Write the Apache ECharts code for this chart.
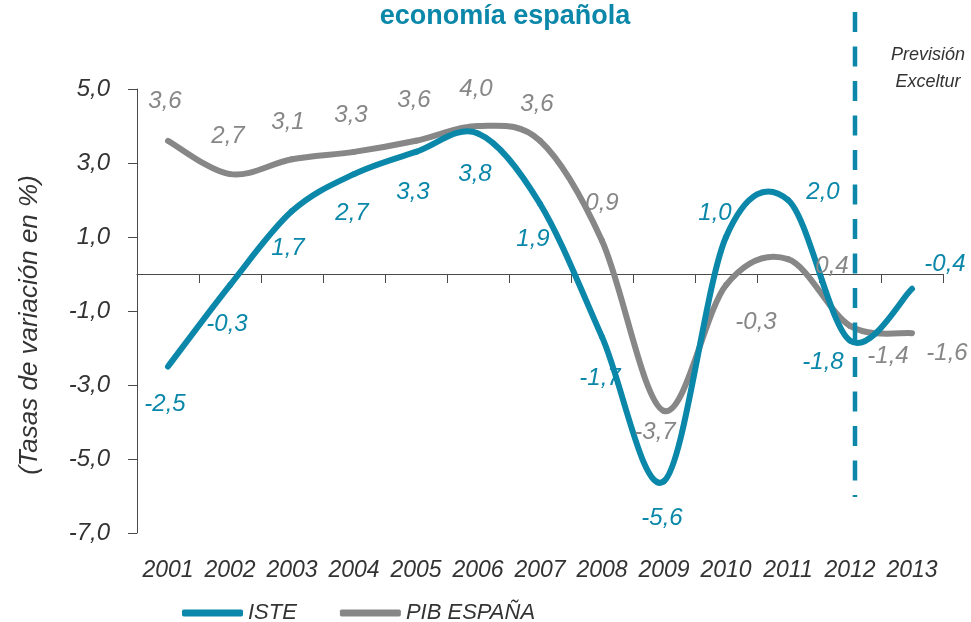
<!DOCTYPE html>
<html>
<head>
<meta charset="utf-8">
<script src="https://cdn.jsdelivr.net/npm/echarts@6/dist/echarts.min.js"></script>
<style>
html,body{margin:0;padding:0;background:#fff;}
#c{width:971px;height:622px;}
</style>
</head>
<body>
<div id="c"></div>
<script>
var categories = ['2001','2002','2003','2004','2005','2006','2007','2008','2009','2010','2011','2012','2013'];
var isteValues = [-2.5, -0.3, 1.7, 2.7, 3.3, 3.8, 1.9, -1.7, -5.6, 1.0, 2.0, -1.8, -0.4];
var pibValues  = [3.6, 2.7, 3.1, 3.3, 3.6, 4.0, 3.6, 0.9, -3.7, -0.3, 0.4, -1.4, -1.6];
var yTicks = [-7, -5, -3, -1, 1, 3, 5];
var forecastYear = '2012';
var forecastSpan = [7.08, -6.03];

// label placement (pixel offsets from each point)
var isteLabelOffset = [[-3,38],[-3,39],[-4,37],[-2,39],[-3,40],[-3,41],[-7,36],[-2,41],[-2,37],[-11,-24],[35,-8],[-27,22],[33,-24]];
var pibLabelOffset  = [[-3,-39],[-2,-38],[-4,-37],[-3,-37],[-2,-40],[-2,-37],[-3,-36],[0,-37],[-9,21],[30,37],[44,7],[38,31],[35,20]];

var TEAL = '#0a87a9';
var GREY = '#878787';
var FONT = '"Liberation Sans", Arial, sans-serif';

function fmt(v){ return v.toFixed(1).replace('.', ','); }

function buildLabelData(vals, offs, color){
  return vals.map(function(v, i){
    return {
      value: v,
      label: {
        show: true,
        position: 'inside',
        offset: offs[i],
        formatter: fmt(v),
        color: color,
        fontSize: 24,
        fontStyle: 'italic',
        fontFamily: FONT,
        align: 'center',
        verticalAlign: 'middle'
      }
    };
  });
}

// Smoothed (Catmull-Rom style) curve segments drawn through the axis scales
function curveRenderer(vals, color){
  return function(params, api){
    var i = params.dataIndex;
    var n = vals.length;
    if (i >= n - 1) return null;
    function P(j){
      j = Math.max(0, Math.min(n - 1, j));
      return api.coord([j, vals[j]]);
    }
    var p0 = P(i - 1), p1 = P(i), p2 = P(i + 1), p3 = P(i + 2);
    return {
      type: 'bezierCurve',
      shape: {
        x1: p1[0], y1: p1[1], x2: p2[0], y2: p2[1],
        cpx1: p1[0] + (p2[0] - p0[0]) / 6, cpy1: p1[1] + (p2[1] - p0[1]) / 6,
        cpx2: p2[0] - (p3[0] - p1[0]) / 6, cpy2: p2[1] - (p3[1] - p1[1]) / 6
      },
      style: {stroke: color, lineWidth: 6, fill: null, lineCap: 'round', lineJoin: 'round'}
    };
  };
}

function pairs(vals){ return vals.map(function(v, i){ return [i, v]; }); }

var chart = echarts.init(document.getElementById('c'), null, {renderer: 'canvas'});
chart.setOption({
  animation: false,
  backgroundColor: '#ffffff',
  title: [
    {
      text: 'economía española',
      left: 505, top: 3, textAlign: 'center', padding: 0,
      textStyle: {color: TEAL, fontSize: 27, fontWeight: 'bold', fontFamily: FONT}
    },
    {
      text: 'Previsión\nExceltur',
      left: 928, top: 41, textAlign: 'center', padding: 0,
      textStyle: {color: '#333', fontSize: 18, fontStyle: 'italic', fontWeight: 'normal', fontFamily: FONT, lineHeight: 27}
    }
  ],
  grid: {left: 137, right: 28, top: 89, bottom: 89, containLabel: false},
  legend: {
    left: 177, top: 597,
    itemWidth: 61, itemHeight: 7, itemGap: 43, itemTextGap: 2,
    icon: 'roundRect',
    textStyle: {fontSize: 22, fontStyle: 'italic', color: '#333', fontFamily: FONT},
    data: ['ISTE', 'PIB ESPAÑA']
  },
  xAxis: [
    {
      type: 'category', data: categories, boundaryGap: true,
      axisLine: {onZero: true, lineStyle: {color: '#4a4a4a', width: 1}},
      axisTick: {show: true, length: 9, lineStyle: {color: '#4a4a4a'}},
      axisLabel: {show: false},
      splitLine: {show: false}
    },
    {
      type: 'category', data: categories, boundaryGap: true, position: 'bottom',
      axisLine: {show: false, onZero: false},
      axisTick: {show: false},
      axisLabel: {show: true, interval: 0, margin: 26, fontSize: 23, fontStyle: 'italic', color: '#333', fontFamily: FONT},
      splitLine: {show: false}
    }
  ],
  yAxis: {
    type: 'value', min: yTicks[0], max: yTicks[yTicks.length-1], interval: 2,
    name: '(Tasas de variación en %)',
    nameLocation: 'middle', nameGap: 94, nameRotate: 90,
    nameTextStyle: {fontSize: 26, fontStyle: 'italic', color: '#333', fontFamily: FONT, padding: [0, 28, 0, 0]},
    axisLine: {show: true, lineStyle: {color: '#4a4a4a', width: 1}},
    axisTick: {show: true, length: 9, lineStyle: {color: '#4a4a4a'}},
    axisLabel: {margin: 27, fontSize: 24, fontStyle: 'italic', color: '#333', fontFamily: FONT,
      formatter: function(v){ return fmt(v); }},
    splitLine: {show: false}
  },
  series: [
    {
      name: 'PIB ESPAÑA', type: 'custom', xAxisIndex: 0, coordinateSystem: 'cartesian2d',
      data: pairs(pibValues), encode: {x: 0, y: 1},
      itemStyle: {color: GREY},
      renderItem: curveRenderer(pibValues, GREY),
      z: 2
    },
    {
      name: 'ISTE', type: 'custom', xAxisIndex: 0, coordinateSystem: 'cartesian2d',
      data: pairs(isteValues), encode: {x: 0, y: 1},
      itemStyle: {color: TEAL},
      renderItem: curveRenderer(isteValues, TEAL),
      z: 3
    },
    {
      name: 'forecast', type: 'custom', xAxisIndex: 0, coordinateSystem: 'cartesian2d',
      data: [[forecastYear, forecastSpan[0], forecastSpan[1]]], encode: {x: 0, y: [1, 2]},
      clip: false, silent: true,
      renderItem: function(params, api){
        var a = api.coord([api.value(0), api.value(1)]);
        var b = api.coord([api.value(0), api.value(2)]);
        return {
          type: 'line',
          shape: {x1: a[0] + 5, y1: a[1], x2: b[0] + 5, y2: b[1]},
          style: {stroke: TEAL, lineWidth: 4.5, lineDash: [20, 14.5]}
        };
      },
      z: 4
    },
    {
      name: 'PIB labels', type: 'line', xAxisIndex: 0,
      data: buildLabelData(pibValues, pibLabelOffset, GREY),
      symbol: 'circle', symbolSize: 2, showSymbol: true,
      itemStyle: {color: GREY},
      lineStyle: {width: 0, opacity: 0},
      z: 5
    },
    {
      name: 'ISTE labels', type: 'line', xAxisIndex: 0,
      data: buildLabelData(isteValues, isteLabelOffset, TEAL),
      symbol: 'circle', symbolSize: 2, showSymbol: true,
      itemStyle: {color: TEAL},
      lineStyle: {width: 0, opacity: 0},
      z: 6
    }
  ]
});
</script>
</body>
</html>
